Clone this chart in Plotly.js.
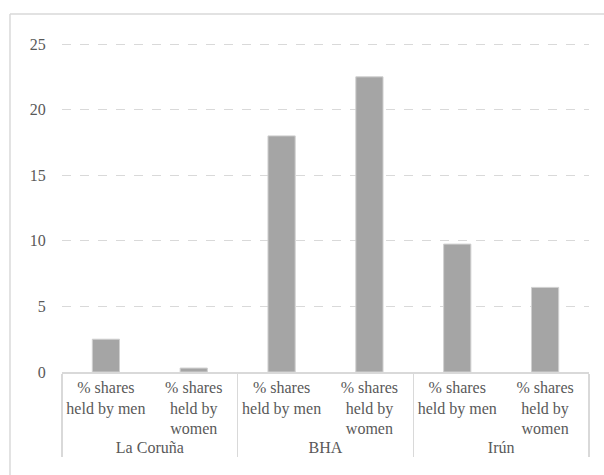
<!DOCTYPE html>
<html>
<head>
<meta charset="utf-8">
<script src="https://cdn.plot.ly/plotly-3.0.1.min.js"></script>
<style>
html,body{margin:0;padding:0;background:#fff;overflow:hidden;}
#chart{position:absolute;left:0;top:0;width:604px;height:475px;}
</style>
</head>
<body>
<div id="chart"></div>
<script>
const groups = ["La Coru&#241;a", "La Coru&#241;a", "BHA", "BHA", "Ir&#250;n", "Ir&#250;n"];
const labels = ["% shares<br>held by men", "% shares<br>held by<br>women",
                "% shares<br>held by men", "% shares<br>held by<br>women",
                "% shares<br>held by men", "% shares<br>held by<br>women"];
const values = [2.5, 0.3, 18.0, 22.5, 9.75, 6.45];
const yTicks = [0, 5, 10, 15, 20, 25];

const FONT = "Liberation Serif";

const trace = {
  type: "bar",
  x: [groups, labels],
  y: values,
  marker: {color: "#a5a5a5", line: {color: "#d0d0d0", width: 1}},
  hoverinfo: "skip"
};

const layout = {
  width: 604, height: 475,
  margin: {l: 62, r: 15, t: 43, b: 103},
  paper_bgcolor: "#fff", plot_bgcolor: "#fff",
  font: {family: FONT, size: 16, color: "#595959"},
  bargap: 0.69,
  showlegend: false,
  shapes: [
    {type: "line", xref: "paper", yref: "paper", x0: -0.0987, x1: -0.0987, y0: -0.4, y1: 1.088,
     line: {color: "#d9d9d9", width: 1.5}},
    {type: "line", xref: "paper", yref: "paper", x0: -0.0987, x1: 1.1, y0: 1.088, y1: 1.088,
     line: {color: "#d9d9d9", width: 1.5}}
  ],
  xaxis: {
    type: "multicategory",
    showline: true, linecolor: "#d9d9d9", linewidth: 1.5,
    showdividers: true, dividercolor: "#d9d9d9", dividerwidth: 1.5,
    ticks: "", tickfont: {family: FONT, size: 16, color: "#595959"},
    showgrid: false, zeroline: false
  },
  yaxis: {
    range: [0, 25.08],
    tickvals: yTicks,
    ticktext: yTicks.map(String),
    showgrid: true, gridcolor: "#d9d9d9", griddash: "dash", gridwidth: 1,
    zeroline: false, showline: false,
    ticks: "outside", ticklen: 12, tickcolor: "rgba(0,0,0,0)",
    tickfont: {family: FONT, size: 16, color: "#595959"}
  }
};

Plotly.newPlot("chart", [trace], layout, {displayModeBar: false, staticPlot: true});
</script>
</body>
</html>
